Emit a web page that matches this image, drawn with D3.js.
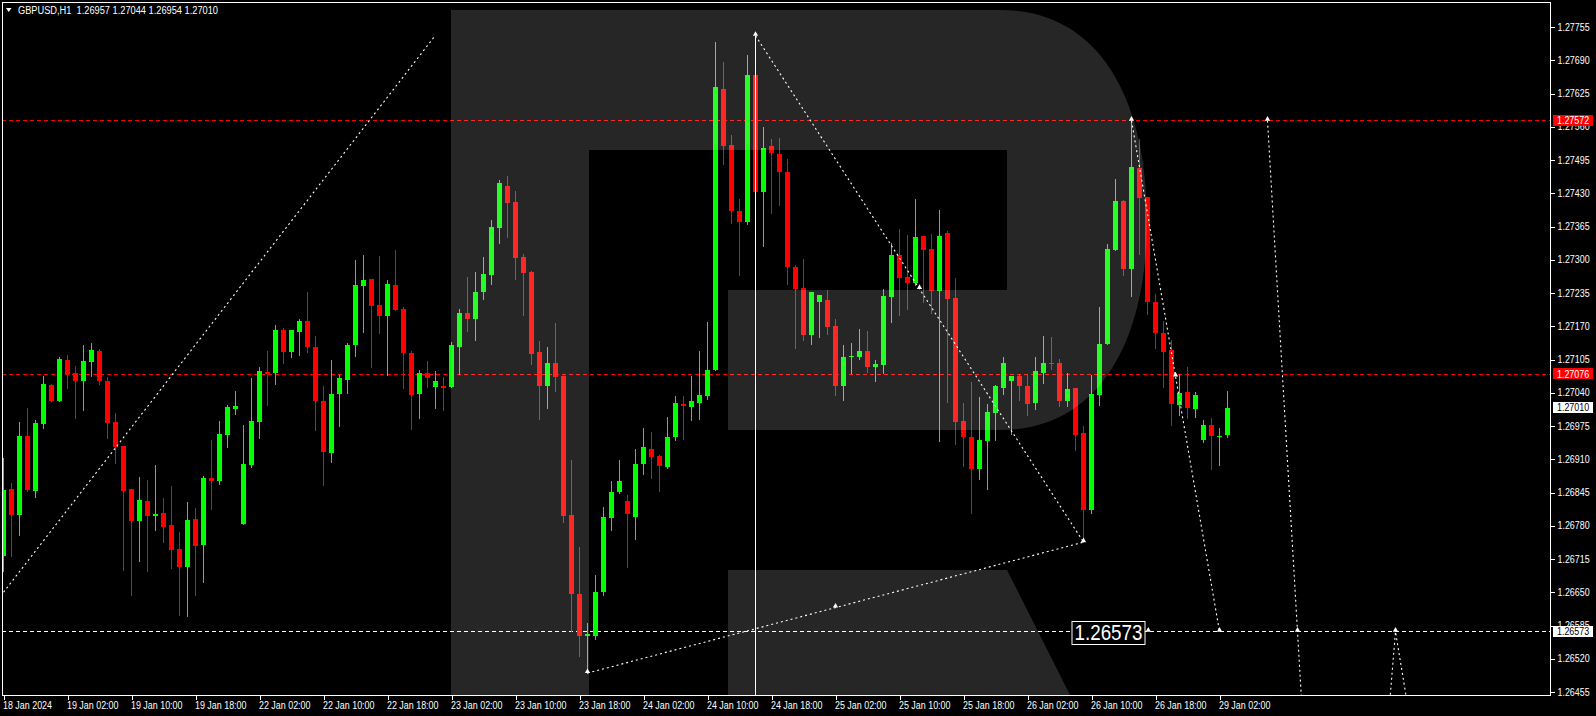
<!DOCTYPE html>
<html>
<head>
<meta charset="utf-8">
<title>GBPUSD H1</title>
<script src="https://cdn.jsdelivr.net/npm/d3@7"></script>
<style>
html,body{margin:0;padding:0;background:#000;overflow:hidden;}
svg{display:block;}
text{font-family:"Liberation Sans",Arial,sans-serif;}
</style>
</head>
<body>
<svg id="chart" width="1596" height="716"></svg>
<script>
// ---------------- data ----------------
const chartTitle = "GBPUSD,H1  1.26957 1.27044 1.26954 1.27010";

const opens = [
1.26721,1.26852,1.26801,1.26955,1.26848,1.26979,1.27055,1.27024,1.27104,1.27079,
1.27062,1.27101,1.27122,1.27063,1.26983,1.26936,1.26852,1.26790,1.26828,1.26800,
1.26805,1.26781,1.26734,1.26700,1.26793,1.26743,1.26873,1.26868,1.26957,1.27008,
1.26783,1.26899,1.26983,1.27080,1.27079,1.27163,1.27120,1.27159,1.27180,1.27129,
1.27024,1.26923,1.27038,1.27065,1.27133,1.27249,1.27262,1.27211,1.27190,1.27251,
1.27204,1.27118,1.27038,1.27079,1.27051,1.27053,1.27051,1.27129,1.27196,1.27184,
1.27237,1.27270,1.27362,1.27444,1.27413,1.27305,1.27276,1.27120,1.27053,1.27098,
1.27073,1.26801,1.26646,1.26564,1.26564,1.26650,1.26795,1.26846,1.26828,1.26797,
1.26900,1.26931,1.26917,1.26895,1.26953,1.27018,1.27013,1.27020,1.27034,1.27084,
1.27634,1.27524,1.27396,1.27374,1.27661,1.27433,1.27523,1.27507,1.27472,1.27286,
1.27245,1.27153,1.27217,1.27221,1.27170,1.27053,1.27110,1.27110,1.27122,1.27090,
1.27094,1.27227,1.27309,1.27266,1.27255,1.27346,1.27321,1.27239,1.27352,1.27225,
1.26985,1.26953,1.26891,1.26946,1.27000,1.27049,1.27063,1.27073,1.27053,1.27020,
1.27079,1.27098,1.27098,1.27024,1.27049,1.26961,1.26811,1.27036,1.27135,1.27319,
1.27415,1.27282,1.27479,1.27423,1.27217,1.27157,1.27124,1.27016,1.27041,1.27008,
1.26948,1.26977,1.26953,1.26957];

const highs = [
1.26913,1.26864,1.26983,1.27010,1.26987,1.27073,1.27057,1.27110,1.27114,1.27092,
1.27133,1.27137,1.27126,1.27071,1.27000,1.26936,1.26852,1.26875,1.26869,1.26899,
1.26834,1.26858,1.26768,1.26826,1.26815,1.26877,1.26948,1.26985,1.27016,1.27043,
1.26977,1.27069,1.27090,1.27122,1.27172,1.27166,1.27163,1.27184,1.27237,1.27151,
1.27053,1.27104,1.27075,1.27137,1.27300,1.27309,1.27262,1.27307,1.27260,1.27319,
1.27208,1.27122,1.27084,1.27102,1.27082,1.27071,1.27139,1.27204,1.27266,1.27276,
1.27305,1.27378,1.27456,1.27464,1.27434,1.27311,1.27278,1.27141,1.27129,1.27176,
1.27073,1.26908,1.26738,1.26590,1.26684,1.26817,1.26867,1.26908,1.26840,1.26930,
1.26971,1.26963,1.26918,1.26993,1.27033,1.27033,1.27073,1.27122,1.27178,1.27726,
1.27686,1.27544,1.27419,1.27700,1.27738,1.27559,1.27536,1.27538,1.27497,1.27290,
1.27301,1.27237,1.27231,1.27241,1.27184,1.27133,1.27137,1.27165,1.27161,1.27104,
1.27243,1.27333,1.27360,1.27348,1.27419,1.27346,1.27350,1.27397,1.27356,1.27264,
1.27020,1.27061,1.27032,1.27018,1.27055,1.27110,1.27073,1.27077,1.27077,1.27110,
1.27151,1.27149,1.27106,1.27079,1.27049,1.26975,1.27075,1.27208,1.27331,1.27458,
1.27417,1.27572,1.27536,1.27423,1.27233,1.27180,1.27143,1.27077,1.27090,1.27041,
1.26987,1.26991,1.26971,1.27044];

const lows = [
1.26692,1.26721,1.26761,1.26847,1.26837,1.26972,1.27024,1.27024,1.27050,1.26991,
1.27007,1.27073,1.27058,1.26952,1.26903,1.26694,1.26645,1.26712,1.26692,1.26772,
1.26749,1.26698,1.26606,1.26604,1.26645,1.26671,1.26813,1.26862,1.26934,1.26998,
1.26783,1.26895,1.26951,1.27016,1.27057,1.27098,1.27110,1.27114,1.27120,1.26967,
1.26860,1.26905,1.26975,1.27040,1.27112,1.27159,1.27090,1.27157,1.27075,1.27202,
1.27049,1.26969,1.26991,1.27051,1.27010,1.27006,1.27051,1.27077,1.27161,1.27143,
1.27223,1.27253,1.27333,1.27344,1.27262,1.27192,1.27096,1.26989,1.27010,1.27043,
1.26787,1.26574,1.26525,1.26492,1.26559,1.26645,1.26772,1.26844,1.26699,1.26755,
1.26882,1.26874,1.26847,1.26892,1.26948,1.26950,1.26987,1.26989,1.27028,1.27084,
1.27488,1.27372,1.27271,1.27369,1.27433,1.27327,1.27392,1.27407,1.27252,1.27127,
1.27143,1.27135,1.27149,1.27155,1.27036,1.27026,1.27079,1.27106,1.27081,1.27063,
1.27079,1.27178,1.27192,1.27204,1.27251,1.27217,1.27196,1.26946,1.27022,1.26940,
1.26897,1.26805,1.26871,1.26852,1.26948,1.27038,1.26959,1.27026,1.26997,1.27008,
1.27059,1.27086,1.27014,1.27014,1.26928,1.26748,1.26805,1.27016,1.27135,1.27319,
1.27270,1.27229,1.27311,1.27194,1.27127,1.27051,1.26977,1.26997,1.26991,1.26993,
1.26944,1.26891,1.26899,1.26954];

const closes = [
1.26850,1.26801,1.26955,1.26850,1.26981,1.27057,1.27024,1.27106,1.27077,1.27062,
1.27102,1.27124,1.27062,1.26981,1.26934,1.26848,1.26790,1.26830,1.26800,1.26803,
1.26778,1.26733,1.26700,1.26791,1.26741,1.26873,1.26868,1.26959,1.27012,1.27014,
1.26901,1.26985,1.27082,1.27077,1.27163,1.27120,1.27163,1.27180,1.27129,1.27024,
1.26925,1.27038,1.27069,1.27133,1.27251,1.27260,1.27210,1.27190,1.27253,1.27202,
1.27118,1.27036,1.27079,1.27069,1.27063,1.27049,1.27133,1.27196,1.27184,1.27237,
1.27272,1.27364,1.27450,1.27411,1.27303,1.27274,1.27116,1.27053,1.27098,1.27071,
1.26799,1.26646,1.26564,1.26568,1.26650,1.26797,1.26846,1.26867,1.26803,1.26901,
1.26934,1.26915,1.26896,1.26953,1.27020,1.27014,1.27023,1.27036,1.27084,1.27638,
1.27523,1.27396,1.27374,1.27661,1.27433,1.27518,1.27508,1.27472,1.27285,1.27243,
1.27153,1.27237,1.27231,1.27168,1.27053,1.27110,1.27112,1.27122,1.27090,1.27096,
1.27229,1.27309,1.27264,1.27255,1.27344,1.27319,1.27239,1.27346,1.27223,1.26983,
1.26953,1.26891,1.26948,1.27002,1.27053,1.27098,1.27073,1.27053,1.27018,1.27082,
1.27098,1.27096,1.27024,1.27047,1.26957,1.26811,1.27038,1.27135,1.27321,1.27415,
1.27282,1.27481,1.27421,1.27217,1.27157,1.27120,1.27018,1.27040,1.27010,1.27036,
1.26977,1.26955,1.26955,1.27010];

const timeTickBars = [0,8,16,24,32,40,48,56,64,72,80,88,96,104,112,120,128,136,144,152];
const timeTickLabels = ["18 Jan 2024","19 Jan 02:00","19 Jan 10:00","19 Jan 18:00","22 Jan 02:00",
  "22 Jan 10:00","22 Jan 18:00","23 Jan 02:00","23 Jan 10:00","23 Jan 18:00","24 Jan 02:00",
  "24 Jan 10:00","24 Jan 18:00","25 Jan 02:00","25 Jan 10:00","25 Jan 18:00","26 Jan 02:00",
  "26 Jan 10:00","26 Jan 18:00","29 Jan 02:00"];

const priceTicks = [1.26455,1.26520,1.26585,1.26650,1.26715,1.26780,1.26845,1.26910,1.26975,
  1.27040,1.27105,1.27170,1.27235,1.27300,1.27365,1.27430,1.27495,1.27560,1.27625,1.27690,1.27755];

const redLevels = [1.27572, 1.27076];
const whiteLevel = 1.26573;
const lastPrice = 1.27010;
const verticalLineBar = 94;
const verticalLineTop = 1.27738;

// forecast / analysis dotted lines: [barIndex, price]
const dottedLines = [
  [[0, 1.26650], [54, 1.27739]],
  [[73, 1.26492], [135, 1.26748]],
  [[94, 1.27738], [135, 1.26748]],
  [[141, 1.27572], [152, 1.26573]],
  [[158, 1.27572], [162.4, 1.26400]],
  [[173.3, 1.26440], [174, 1.26573], [175.4, 1.26440]]
];
const dottedMarkers = [
  [94, 1.27738], [114.5, 1.27243], [135, 1.26748], [104, 1.26620], [73, 1.26492],
  [141, 1.27572], [146.5, 1.27072], [152, 1.26573], [158, 1.27572], [161.75, 1.26573],
  [174, 1.26573], [143.1, 1.26573]
];
const levelLabelText = "1.26573";
const levelLabelRightBar = 142.75;

// ---------------- drawing ----------------
const W = 1596, H = 716;
const plotL = 2, plotT = 2, plotR = 1550, plotB = 695;
const bullColor = "#00ff00", bearColor = "#ff0000";

const svg = d3.select("#chart");
const x = d3.scaleLinear().domain([0, 193.3125]).range([3.5, 1550]);
const y = d3.scaleLinear().domain([priceTicks[0], priceTicks[priceTicks.length - 1]]).range([692, 27]);
const crispY = v => Math.floor(y(v)) + 0.5;

svg.append("rect").attr("width", W).attr("height", H).attr("fill", "#000");

svg.append("defs").append("clipPath").attr("id", "plotClip")
  .append("rect").attr("x", plotL).attr("y", plotT)
  .attr("width", plotR - plotL).attr("height", plotB - plotT);

const plot = svg.append("g").attr("clip-path", "url(#plotClip)");

// horizontal levels
plot.append("g").selectAll("line").data(redLevels).join("line")
  .attr("x1", plotL).attr("x2", plotR)
  .attr("y1", d => crispY(d)).attr("y2", d => crispY(d))
  .attr("stroke", "#ff0000").attr("stroke-width", 1).attr("stroke-dasharray", "4,3");

plot.append("line")
  .attr("x1", plotL).attr("x2", plotR)
  .attr("y1", crispY(whiteLevel)).attr("y2", crispY(whiteLevel))
  .attr("stroke", "#ffffff").attr("stroke-width", 1).attr("stroke-dasharray", "4,3");

// candles
const bars = d3.range(opens.length).map(i => ({ i, o: opens[i], h: highs[i], l: lows[i], c: closes[i] }));
const cg = plot.append("g").attr("shape-rendering", "crispEdges");
cg.selectAll("line").data(bars).join("line")
  .attr("x1", d => x(d.i)).attr("x2", d => x(d.i))
  .attr("y1", d => Math.round(y(d.h))).attr("y2", d => Math.round(y(d.l)) + 1)
  .attr("stroke", d => d.c > d.o ? bullColor : bearColor).attr("stroke-width", 1);
cg.selectAll("rect").data(bars).join("rect")
  .attr("x", d => x(d.i) - 2.5).attr("width", 5)
  .attr("y", d => Math.round(y(Math.max(d.o, d.c))))
  .attr("height", d => Math.max(1, Math.round(y(Math.min(d.o, d.c))) - Math.round(y(Math.max(d.o, d.c)))))
  .attr("fill", d => d.c > d.o ? bullColor : bearColor);

// vertical line
plot.append("line")
  .attr("x1", x(verticalLineBar)).attr("x2", x(verticalLineBar))
  .attr("y1", y(verticalLineTop)).attr("y2", plotB)
  .attr("stroke", "#ffffff").attr("stroke-width", 1).attr("shape-rendering", "crispEdges");

// dotted analysis lines
const lineGen = d3.line().x(d => x(d[0])).y(d => y(d[1]));
plot.append("g").selectAll("path").data(dottedLines).join("path")
  .attr("d", lineGen).attr("fill", "none")
  .attr("stroke", "#ffffff").attr("stroke-width", 1.1).attr("stroke-dasharray", "2,3");

plot.append("g").selectAll("path").data(dottedMarkers).join("path")
  .attr("d", d3.symbol(d3.symbolTriangle, 12))
  .attr("transform", d => `translate(${x(d[0])},${y(d[1]) - 1.5})`)
  .attr("fill", "#ffffff");

// level label box
const lbRight = x(levelLabelRightBar);
const lbY = y(whiteLevel);
plot.append("rect")
  .attr("x", lbRight - 74 + 0.5).attr("y", Math.round(lbY) - 10.5)
  .attr("width", 73).attr("height", 23)
  .attr("fill", "#000").attr("stroke", "#fff").attr("stroke-width", 1);
plot.append("text")
  .attr("x", lbRight - 71).attr("y", lbY + 8)
  .attr("fill", "#fff").attr("font-size", 22)
  .attr("textLength", 68).attr("lengthAdjust", "spacingAndGlyphs")
  .text(levelLabelText);

// watermark logo (semi-transparent overlay)
plot.append("path")
  .attr("d", "M451,10 H1000 C1100,10 1147,100 1147,220 C1147,340 1100,430 1000,430 H728 V290 H1007 V150 H589 V695 H451 Z M728,570 H1007 L1070,695 H728 Z")
  .attr("fill", "#ffffff").attr("fill-opacity", 0.15);

// frame
svg.append("rect")
  .attr("x", plotL + 0.5).attr("y", plotT + 0.5)
  .attr("width", plotR - plotL).attr("height", plotB - plotT)
  .attr("fill", "none").attr("stroke", "#fff").attr("stroke-width", 1)
  .attr("shape-rendering", "crispEdges");

// price axis
const yAxis = d3.axisRight(y).tickValues(priceTicks).tickFormat(d3.format(".5f")).tickSize(4).tickPadding(3);
const yG = svg.append("g").attr("transform", `translate(${plotR + 0.5},0)`).call(yAxis);
yG.select(".domain").remove();
yG.selectAll("line").attr("stroke", "#fff").attr("shape-rendering", "crispEdges");
yG.selectAll("text").attr("fill", "#fff").attr("font-size", 10)
  .attr("font-family", "'Liberation Sans', Arial, sans-serif");

// time axis
const xAxis = d3.axisBottom(x).tickValues(timeTickBars).tickFormat((d, i) => timeTickLabels[i]).tickSize(4).tickPadding(2);
const xG = svg.append("g").attr("transform", `translate(0,${plotB + 0.5})`).call(xAxis);
xG.select(".domain").remove();
xG.selectAll("line").attr("stroke", "#fff").attr("shape-rendering", "crispEdges");
xG.selectAll("text").attr("fill", "#fff").attr("font-size", 10).attr("text-anchor", "start").attr("dx", -1)
  .attr("font-family", "'Liberation Sans', Arial, sans-serif");

// highlighted price labels
const priceBoxes = [
  { p: redLevels[0], bg: "#ff0000", fg: "#ffffff" },
  { p: redLevels[1], bg: "#ff0000", fg: "#ffffff" },
  { p: lastPrice, bg: "#ffffff", fg: "#000000" },
  { p: whiteLevel, bg: "#ffffff", fg: "#000000" }
];
const pbG = svg.append("g");
pbG.selectAll("rect").data(priceBoxes).join("rect")
  .attr("x", plotR + 3).attr("y", d => Math.round(y(d.p)) - 6)
  .attr("width", 40).attr("height", 11).attr("fill", d => d.bg);
pbG.selectAll("text").data(priceBoxes).join("text")
  .attr("x", plotR + 7).attr("y", d => y(d.p)).attr("dy", "0.34em")
  .attr("fill", d => d.fg).attr("font-size", 10)
  .text(d => d3.format(".5f")(d.p));

// compress axis label widths to match terminal font metrics
svg.selectAll(".tick text, g text").each(function () {
  const sel = d3.select(this);
  if (sel.attr("textLength")) return;
  const w = this.getComputedTextLength();
  sel.attr("textLength", w * 0.89).attr("lengthAdjust", "spacingAndGlyphs");
});

// title
svg.append("path").attr("d", "M6,8 L11.5,8 L8.75,12 Z").attr("fill", "#fff");
svg.append("text").attr("x", 18).attr("y", 14).attr("fill", "#fff").attr("font-size", 10)
  .style("white-space", "pre").attr("textLength", 200).attr("lengthAdjust", "spacingAndGlyphs")
  .text(chartTitle);
</script>
</body>
</html>
